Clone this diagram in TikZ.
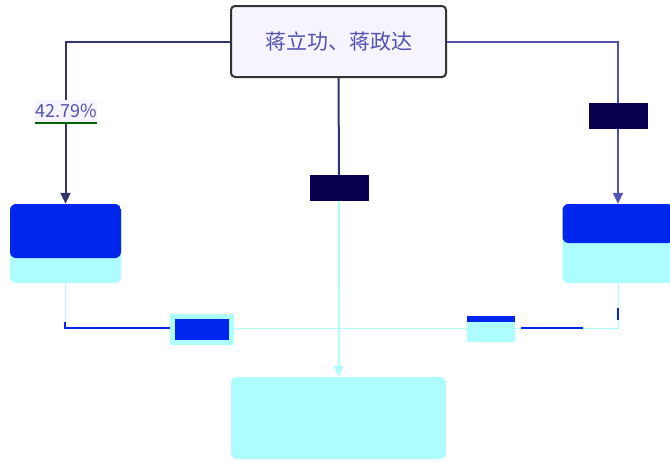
\documentclass[tikz,border=0pt]{standalone}
\usepackage{fontspec}
\setmainfont{Noto Sans CJK SC}
\usetikzlibrary{arrows.meta}
\definecolor{ciano}{HTML}{ADFDFF}
\definecolor{blu}{HTML}{0026EE}
\definecolor{notte}{HTML}{0A0050}
\definecolor{lavanda}{HTML}{F6F4FF}
\definecolor{bordo}{HTML}{333333}
\definecolor{viola}{HTML}{5252B2}
\definecolor{linea}{HTML}{33336E}
\begin{document}
\begin{tikzpicture}[x=1pt,y=-1pt,
    socio/.style={draw=bordo, line width=2pt, rounded corners=4pt, fill=lavanda,
        minimum width=215pt, minimum height=71pt, text=viola,
        font=\fontsize{21}{25}\selectfont},
    impresa/.style={rounded corners=6pt, fill=ciano, inner sep=0pt,
        minimum width=111pt, minimum height=79pt},
    banda/.style={path picture={\fill[blu] (path picture bounding box.north west)
        rectangle ([yshift=-#1pt]path picture bounding box.north east);}},
    quota/.style={inner sep=0pt, minimum width=59pt, minimum height=26pt,
        font=\fontsize{18}{20}\selectfont},
    freccia/.style={-{Triangle[length=11pt,width=10pt]}, line width=2pt}]
        \useasboundingbox (0,0) rectangle (670,461);

        % Disegna i soci e le imprese
        \node[socio] (socio) at (338.5,41.5) {蒋立功、蒋政达};
        \node[impresa, banda=54] (sx) at (65.5,243.5) {};
        \node[impresa, banda=39] (dx) at (618,243.5) {};
        \node[impresa, minimum width=215pt, minimum height=82pt] (giu) at (338.5,418) {};
        \coordinate (giunto) at (338.5,328);

        % Disegna le partecipazioni
        \draw[freccia, linea] (socio.west) -| (sx.north);
        \draw[freccia, viola] (socio.east) -| (dx.north);
        \draw[ciano, line width=1pt] (sx.south) |- (giunto);
        \draw[ciano, line width=1pt] (dx.south) |- (giunto);
        \draw[blu, line width=2pt] (65,322) -- (65,328) -- (172,328);
        \draw[blu, line width=2pt] (521,328) -- (583,328);
        \draw[blu, line width=2pt] (618,308) -- (618,320);

        % Disegna le etichette
        \node[quota, fill=lavanda, text=viola, minimum width=60pt, minimum height=23pt] (qsx) at (66,111) {42.79\%};
        \node[quota, fill=notte] (qdx) at (618,116) {};
        \node[quota, fill=notte] (qc) at (339,188) {};
        \node[quota, fill=blu, draw=ciano, line width=5pt] (qbs) at (202,329) {};
        \node[quota, fill=ciano, banda=6, minimum width=48pt] (qbd) at (491,329) {};
        \draw[line width=2pt, linea] (socio.south) -- (qc.north);
        \draw[freccia, ciano] (qc.south) -- (giu.north);
        \draw[line width=2pt, green!40!black] (qsx.south west) -- (qsx.south east);
\end{tikzpicture}
\end{document}
